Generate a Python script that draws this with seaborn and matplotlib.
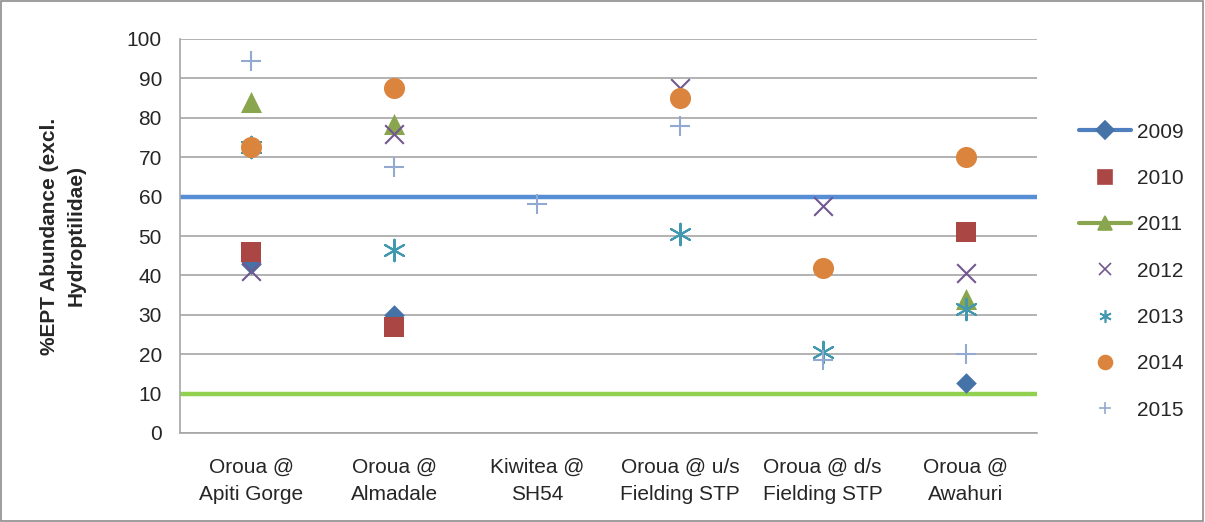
import numpy as np
import pandas as pd
import matplotlib
matplotlib.use('Agg')
import matplotlib.pyplot as plt
import seaborn as sns
from matplotlib.lines import Line2D
from matplotlib.patches import Rectangle

sns.set_style('white')
plt.rcParams['font.family'] = ['Liberation Sans', 'DejaVu Sans']

# sites on the category axis
sites = ['Oroua @\nApiti Gorge', 'Oroua @\nAlmadale', 'Kiwitea @\nSH54',
         'Oroua @ u/s\nFielding STP', 'Oroua @ d/s\nFielding STP', 'Oroua @\nAwahuri']

# %EPT per year (None = not sampled)
y2009 = [43, 30, None, None, None, 12.8]
y2010 = [46, 27, None, None, None, 51]
y2011 = [84, 78.5, None, None, None, 34]
y2012 = [41, 76, None, 87.5, 57.5, 40.5]
y2013 = [72.5, 46.5, None, 50.5, 20.5, 31.5]
y2014 = [72.5, 87.5, None, 85, 42, 70]
y2015 = [94.5, 67.5, 58, 78, 18.5, 20]

years = ['2009', '2010', '2011', '2012', '2013', '2014', '2015']
series = [y2009, y2010, y2011, y2012, y2013, y2014, y2015]
colors = ['#4572A7', '#AA4643', '#89A54E', '#71588F', '#4198AF', '#DB843D', '#93A9CF']
markers = ['D', 's', '^', 'x', (6, 2, 0), 'o', '+']
sizes = [110, 190, 230, 180, 240, 230, 200]

upper_guide = 60
lower_guide = 10

rows = []
for yr, vals in zip(years, series):
    for i, v in enumerate(vals):
        if v is not None:
            rows.append({'site': i, 'year': yr, 'value': v})
df = pd.DataFrame(rows)

fig = plt.figure(figsize=(12.05, 5.22), dpi=100)
ax = fig.add_axes([180/1205, 1-433/522, (1037-180)/1205, (433-39)/522])

ax.axhline(upper_guide, color='#558ED5', lw=3.2, zorder=1)
ax.axhline(lower_guide, color='#92D050', lw=3.2, zorder=1)

for yr, c, m, s in zip(years, colors, markers, sizes):
    d = df[df['year'] == yr]
    line_art = m in ('x', '+') or isinstance(m, tuple)
    sns.scatterplot(data=d, x='site', y='value', color=c, marker=m, s=s,
                    linewidth=1.5 if line_art else 0,
                    edgecolor=None if line_art else c,
                    ax=ax, zorder=3, legend=False)

ax.set_xlim(-0.5, len(sites) - 0.5)
ax.set_ylim(0, 100)
ax.set_yticks(np.arange(0, 101, 10))
ax.yaxis.grid(True, color='#A6A6A6', lw=1.2)
ax.set_axisbelow(True)
ax.set_xticks(range(len(sites)))
ax.set_xticklabels(sites, fontsize=15, linespacing=1.55)
ax.set_xticks(np.arange(-0.5, len(sites), 1), minor=True)
ax.tick_params(axis='x', which='major', length=0, pad=18)
ax.tick_params(axis='x', which='minor', length=6, color='#A6A6A6', width=1.2)
ax.tick_params(axis='y', labelsize=15, length=5, color='#A6A6A6', width=1.2, pad=8)
ax.set_xlabel('')
ax.set_ylabel('%EPT Abundance (excl.\nHydroptilidae)', fontsize=15, fontweight='bold',
              labelpad=30, linespacing=1.5)
for side in ['top', 'right']:
    ax.spines[side].set_visible(False)
for side in ['left', 'bottom']:
    ax.spines[side].set_color('#A6A6A6')
    ax.spines[side].set_linewidth(1.2)

handles = []
for yr, c, m in zip(years, colors, markers):
    ls = '-' if yr in ('2009', '2011') else 'none'
    lc = '#4F7FBF' if yr == '2009' else ('#89A54E' if yr == '2011' else c)
    ms = 10 if m in ('s', 'o', '^') else 9
    handles.append(Line2D([0], [0], color=lc, lw=3, ls=ls, marker=m, markersize=ms,
                          markerfacecolor=c, markeredgecolor=c, markeredgewidth=1.2))
leg = fig.legend(handles, years, loc='upper left', bbox_to_anchor=(1060/1205, 1-104/522),
                 frameon=False, fontsize=15, labelspacing=1.31, handlelength=2.5,
                 handletextpad=0.3)

fig.patches.append(Rectangle((0.001, 0.002), 0.997, 0.996, transform=fig.transFigure,
                             fill=False, edgecolor='#8C8C8C', lw=1.2))

fig.savefig('out.png', dpi=100)
